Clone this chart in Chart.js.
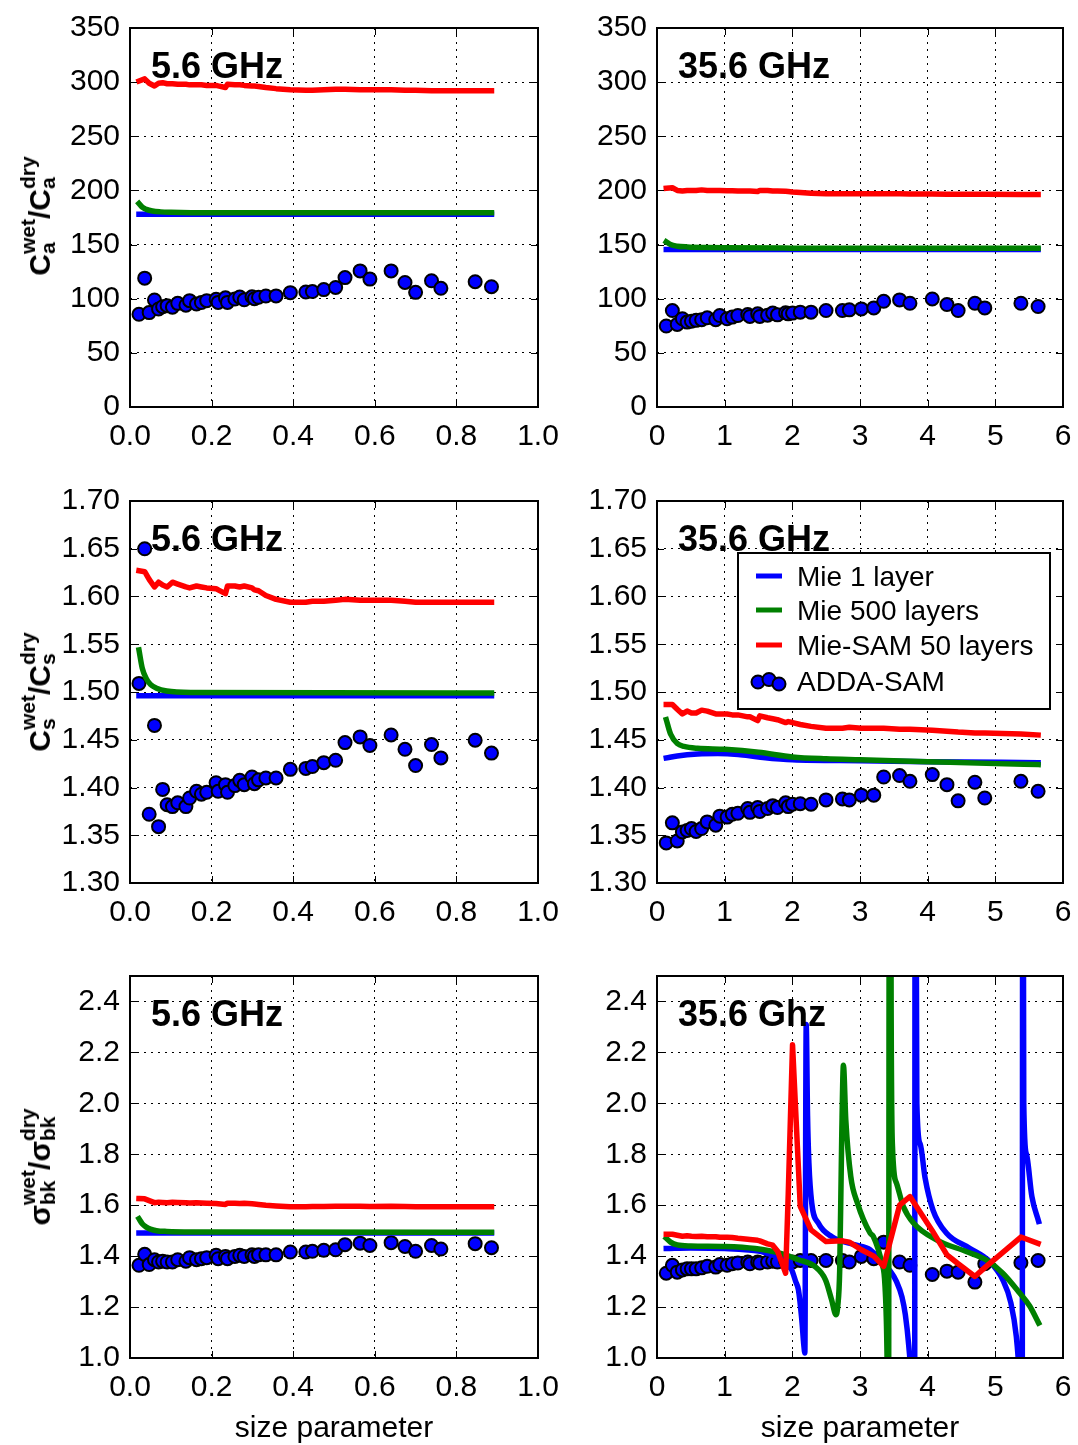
<!DOCTYPE html>
<html>
<head>
<meta charset="utf-8">
<script src="https://cdn.jsdelivr.net/npm/chart.js@4.4.0/dist/chart.umd.min.js"></script>
<style>
  body { margin: 0; background: #fff; width: 1078px; height: 1445px; position: relative; overflow: hidden;
         font-family: "Liberation Sans", Arial, sans-serif; }
  canvas { position: absolute; }
  .ytitle { position: absolute; white-space: nowrap; font-weight: bold; font-size: 30px; line-height: 36px;
            transform: translate(-50%, -50%) rotate(-90deg); }
  .ss { display: inline-flex; flex-direction: column; font-size: 21px; line-height: 20px; vertical-align: 15px; }
</style>
</head>
<body>
<div class="ytitle" style="left:38px;top:216px">C<span class="ss"><span>wet</span><span>a</span></span>/C<span class="ss"><span>dry</span><span>a</span></span></div>
<div class="ytitle" style="left:38px;top:692px">C<span class="ss"><span>wet</span><span>s</span></span>/C<span class="ss"><span>dry</span><span>s</span></span></div>
<div class="ytitle" style="left:38px;top:1167px">σ<span class="ss"><span>wet</span><span>bk</span></span>/σ<span class="ss"><span>dry</span><span>bk</span></span></div>
<script>
// ------------------------
// Datos
// ------------------------

// tamaños de partícula de los puntos ADDA (y de la curva Mie-SAM)
const xs56 = [0.022, 0.036, 0.047, 0.060, 0.070, 0.080, 0.091, 0.104, 0.117, 0.137, 0.146, 0.163, 0.175, 0.188,
  0.211, 0.216, 0.234, 0.239, 0.257, 0.269, 0.280, 0.299, 0.305, 0.315, 0.333, 0.358, 0.393, 0.431, 0.447, 0.475,
  0.504, 0.527, 0.564, 0.588, 0.640, 0.674, 0.700, 0.739, 0.762, 0.846, 0.886];
const xs356 = [0.137, 0.227, 0.299, 0.375, 0.445, 0.509, 0.578, 0.660, 0.742, 0.868, 0.928, 1.036, 1.112, 1.195,
  1.341, 1.373, 1.488, 1.519, 1.634, 1.710, 1.780, 1.901, 1.939, 2.003, 2.117, 2.276, 2.498, 2.740, 2.842, 3.020,
  3.204, 3.350, 3.585, 3.738, 4.068, 4.285, 4.450, 4.698, 4.844, 5.378, 5.632];

// absorción
const addaCa56 = [85.6, 119, 87.2, 98.8, 90.5, 92.6, 93.6, 92.2, 95.7, 94, 98.2, 95.1, 96.5, 98.2, 99.4, 96.6, 100.8,
  96.6, 99.7, 101.5, 99, 101.8, 100, 101.3, 102.5, 102.6, 105.6, 106.2, 106.6, 108.4, 110.4, 119.5, 125.7, 118.1,
  125.7, 115, 105.9, 116.6, 109.6, 115.7, 111.1];
const samCa56 = [301, 303, 299, 296.5, 299, 299.5, 298.5, 298.5, 298, 298, 297.5, 297.5, 297.5, 297, 297, 296.5, 295,
  298, 297.5, 297.5, 297, 296.5, 296.5, 296, 295, 294, 293, 292.5, 292.5, 293, 293.5, 293.5, 293, 293, 293, 292.5,
  292.5, 292, 292, 292, 292];
const mie1Ca56X = [0.022, 0.886];
const mie1Ca56 = [178, 178];
const mie500Ca56X = [0.022, 0.03, 0.04, 0.055, 0.075, 0.1, 0.15, 0.886];
const mie500Ca56 = [188, 184.5, 182.5, 181, 180.2, 179.8, 179.5, 179.3];

const addaCa356 = [74.8, 89.1, 76.3, 81.5, 78.4, 79.3, 80, 80.6, 82.4, 80.6, 84.5, 81.5, 83, 84.5, 85.4, 83.6, 86,
  83.6, 84.8, 86.7, 85.1, 87, 86, 86.7, 87.6, 87.6, 89.1, 89.1, 89.7, 90.6, 91.5, 97.6, 98.9, 95.8, 99.8, 94.6, 89.1,
  95.8, 91.5, 95.8, 92.8];
const samCa356 = [202, 202.5, 200, 199.5, 200, 200, 200, 200.5, 200, 200, 200, 199.8, 199.8, 199.5, 199.5, 199.5, 199,
  200, 200, 199.5, 199.5, 199.3, 199, 198.5, 198, 197.5, 197, 197, 197, 197, 197, 197, 197, 196.8, 196.8, 196.5, 196.5,
  196.5, 196.5, 196.3, 196.3];
const mie1Ca356X = [0.137, 5.632];
const mie1Ca356 = [145.5, 145.5];
const mie500Ca356X = [0.137, 0.2, 0.3, 0.45, 0.7, 1.0, 2.0, 5.632];
const mie500Ca356 = [152.5, 150, 148.5, 147.8, 147.3, 147, 146.7, 146.5];

// dispersión
const addaCs56 = [1.509, 1.650, 1.372, 1.465, 1.359, 1.398, 1.382, 1.380, 1.384, 1.380, 1.389, 1.396, 1.393, 1.395,
  1.405, 1.396, 1.403, 1.395, 1.402, 1.4075, 1.403, 1.411, 1.404, 1.408, 1.410, 1.410, 1.419, 1.420, 1.422, 1.426,
  1.4285, 1.447, 1.453, 1.444, 1.455, 1.440, 1.423, 1.445, 1.431, 1.4495, 1.436];
const samCs56 = [1.627, 1.626, 1.618, 1.610, 1.615, 1.612, 1.610, 1.615, 1.613, 1.610, 1.609, 1.611, 1.610, 1.609,
  1.608, 1.607, 1.603, 1.611, 1.611, 1.610, 1.611, 1.609, 1.607, 1.606, 1.601, 1.597, 1.594, 1.594, 1.595, 1.595,
  1.596, 1.597, 1.596, 1.596, 1.596, 1.595, 1.594, 1.594, 1.594, 1.594, 1.594];
const mie1Cs56X = [0.022, 0.886];
const mie1Cs56 = [1.496, 1.496];
const mie500Cs56X = [0.022, 0.03, 0.04, 0.05, 0.065, 0.09, 0.15, 0.886];
const mie500Cs56 = [1.544, 1.525, 1.514, 1.508, 1.504, 1.501, 1.4995, 1.499];

const addaCs356 = [1.342, 1.363, 1.344, 1.3535, 1.355, 1.357, 1.354, 1.357, 1.364, 1.3605, 1.370, 1.369, 1.372, 1.373,
  1.378, 1.374, 1.379, 1.375, 1.378, 1.381, 1.379, 1.384, 1.380, 1.3825, 1.383, 1.3825, 1.387, 1.388, 1.387, 1.392,
  1.392, 1.411, 1.4125, 1.4065, 1.4135, 1.403, 1.386, 1.4055, 1.389, 1.4065, 1.396];
const samCs356 = [1.487, 1.487, 1.482, 1.477, 1.480, 1.478, 1.478, 1.481, 1.480, 1.477, 1.477, 1.477, 1.476, 1.476,
  1.474, 1.474, 1.470, 1.475, 1.473, 1.472, 1.471, 1.468, 1.469, 1.468, 1.466, 1.464, 1.462, 1.462, 1.463, 1.462,
  1.462, 1.462, 1.461, 1.461, 1.460, 1.459, 1.458, 1.457, 1.457, 1.456, 1.455];
const mie1Cs356X = [0.137, 0.3, 0.6, 0.9, 1.2, 1.5, 2.0, 3.0, 4.0, 5.632];
const mie1Cs356 = [1.431, 1.433, 1.435, 1.4355, 1.4345, 1.432, 1.429, 1.428, 1.427, 1.426];
const mie500Cs356X = [0.137, 0.2, 0.3, 0.4, 0.6, 1.0, 1.5, 2.0, 2.5, 3.0, 4.0, 5.0, 5.632];
const mie500Cs356 = [1.471, 1.456, 1.446, 1.443, 1.441, 1.440, 1.437, 1.432, 1.430, 1.429, 1.427, 1.425, 1.424];

// retrodispersión
const addaBk56 = [1.364, 1.407, 1.367, 1.386, 1.377, 1.380, 1.377, 1.377, 1.386, 1.380, 1.394, 1.386, 1.390, 1.394,
  1.403, 1.390, 1.399, 1.390, 1.399, 1.403, 1.399, 1.405, 1.399, 1.405, 1.405, 1.405, 1.416, 1.416, 1.419, 1.423,
  1.425, 1.445, 1.451, 1.442, 1.453, 1.438, 1.419, 1.442, 1.428, 1.449, 1.433];
const samBk56 = [1.626, 1.625, 1.618, 1.610, 1.612, 1.611, 1.610, 1.612, 1.611, 1.610, 1.609, 1.610, 1.609, 1.608,
  1.607, 1.606, 1.603, 1.608, 1.608, 1.607, 1.608, 1.606, 1.605, 1.603, 1.600, 1.597, 1.594, 1.594, 1.595, 1.595,
  1.596, 1.596, 1.596, 1.595, 1.596, 1.595, 1.594, 1.594, 1.594, 1.594, 1.594];
const mie1Bk56X = [0.022, 0.886];
const mie1Bk56 = [1.491, 1.491];
const mie500Bk56X = [0.022, 0.03, 0.04, 0.05, 0.065, 0.09, 0.15, 0.886];
const mie500Bk56 = [1.547, 1.527, 1.514, 1.506, 1.500, 1.497, 1.495, 1.494];

const addaBk356 = [1.333, 1.364, 1.337, 1.346, 1.350, 1.350, 1.350, 1.354, 1.360, 1.357, 1.367, 1.364, 1.370, 1.373,
  1.377, 1.370, 1.377, 1.373, 1.377, 1.380, 1.377, 1.380, 1.377, 1.377, 1.383, 1.383, 1.383, 1.383, 1.377, 1.399,
  1.390, 1.455, 1.377, 1.364, 1.328, 1.341, 1.337, 1.298, 1.370, 1.374, 1.383];
const samBk356 = [1.486, 1.486, 1.482, 1.478, 1.480, 1.478, 1.477, 1.478, 1.476, 1.476, 1.474, 1.474, 1.473, 1.470,
  1.466, 1.465, 1.462, 1.460, 1.448, 1.443, 1.420, 1.333, 1.640, 2.230, 1.595, 1.503, 1.457, 1.460, 1.455, 1.425,
  1.400, 1.360, 1.600, 1.634, 1.500, 1.405, 1.370, 1.320, 1.355, 1.475, 1.450];
const mie1Bk356X = [0.137, 0.5, 1.0, 1.3, 1.5, 1.7, 1.84, 1.99, 2.05, 2.09, 2.14, 2.17, 2.185, 2.205, 2.225, 2.245,
  2.287, 2.386, 2.58, 2.93, 3.15, 3.34, 3.45, 3.54, 3.62, 3.67, 3.72, 3.76, 3.79, 3.805, 3.815, 3.84, 3.89, 3.96,
  4.08, 4.28, 4.62, 4.91, 5.11, 5.23, 5.31, 5.35, 5.38, 5.395, 5.405, 5.42, 5.46, 5.54, 5.64];
const mie1Bk356 = [1.430, 1.432, 1.430, 1.425, 1.420, 1.405, 1.390, 1.346, 1.300, 1.268, 1.150, 1.050, 1.020, 2.310,
  1.950, 1.765, 1.608, 1.529, 1.477, 1.444, 1.425, 1.370, 1.340, 1.300, 1.240, 1.170, 1.050, 0.900, 0.500, -1.0, 4.0,
  2.000, 1.840, 1.710, 1.580, 1.490, 1.431, 1.380, 1.307, 1.216, 1.085, 0.950, 0.600, -1.0, 4.0, 2.000, 1.800,
  1.634, 1.536];
const mie500Bk356X = [0.137, 0.2, 0.3, 0.5, 1.0, 1.45, 1.84, 2.09, 2.33, 2.49, 2.58, 2.645, 2.67, 2.70, 2.73, 2.755,
  2.79, 2.864, 2.96, 3.15, 3.197, 3.32, 3.37, 3.40, 3.42, 3.44, 3.46, 3.48, 3.54, 3.64, 3.79, 4.13, 4.57, 4.86, 5.11,
  5.36, 5.51, 5.64];
const mie500Bk356 = [1.470, 1.455, 1.444, 1.440, 1.438, 1.430, 1.410, 1.386, 1.360, 1.307, 1.229, 1.170, 1.200,
  1.346, 1.870, 2.150, 1.935, 1.712, 1.610, 1.490, 1.477, 1.373, 1.280, 1.000, 0.400, 5.0, 2.400, 1.830, 1.686, 1.595,
  1.530, 1.464, 1.418, 1.386, 1.333, 1.255, 1.203, 1.137];

// marcas de los ejes
const ticksX56 = [0, 0.2, 0.4, 0.6, 0.8, 1.0];
const ticksX356 = [0, 1, 2, 3, 4, 5, 6];
const ticksCa = [0, 50, 100, 150, 200, 250, 300, 350];
const ticksCs = [1.30, 1.35, 1.40, 1.45, 1.50, 1.55, 1.60, 1.65, 1.70];
const ticksBk = [1.0, 1.2, 1.4, 1.6, 1.8, 2.0, 2.2, 2.4];

const textosLeyenda = ['Mie 1 layer', 'Mie 500 layers', 'Mie-SAM 50 layers', 'ADDA-SAM'];

// ------------------------
// Utilidades
// ------------------------

const familia = '"Liberation Sans", Arial, sans-serif';
Chart.defaults.font.family = familia;
Chart.defaults.color = '#000';

const AZUL = '#0000ff';
const VERDE = '#008000';
const ROJO = '#ff0000';

function puntos(xs, ys) {
  return xs.map((x, i) => ({ x: x, y: ys[i] }));
}

function dibujarLeyenda(ctx, a) {
  const x0 = a.left + 81;
  const y0 = a.top + 52;
  ctx.fillStyle = '#fff';
  ctx.fillRect(x0, y0, 312, 156);
  ctx.lineWidth = 2;
  ctx.strokeStyle = '#000';
  ctx.strokeRect(x0, y0, 312, 156);

  const filas = [23, 57, 92, 128];
  const colores = [AZUL, VERDE, ROJO];
  ctx.font = '28px ' + familia;
  ctx.textAlign = 'left';
  ctx.textBaseline = 'alphabetic';
  textosLeyenda.forEach((t, i) => {
    const yc = y0 + filas[i];
    if (i < 3) {
      ctx.strokeStyle = colores[i];
      ctx.lineWidth = 5;
      ctx.beginPath();
      ctx.moveTo(x0 + 18, yc);
      ctx.lineTo(x0 + 44, yc);
      ctx.stroke();
    } else {
      // tres circulitos como en matplotlib
      [[20, 1], [31, -1.5], [41, 3]].forEach(([dx, dy]) => {
        ctx.beginPath();
        ctx.arc(x0 + dx, yc + dy, 6.5, 0, Math.PI * 2);
        ctx.fillStyle = AZUL;
        ctx.fill();
        ctx.lineWidth = 2;
        ctx.strokeStyle = '#000';
        ctx.stroke();
      });
    }
    ctx.fillStyle = '#000';
    ctx.fillText(t, x0 + 59, yc + 10);
  });
}

// marco, ticks hacia dentro, etiqueta de frecuencia y leyenda
const marco = {
  id: 'marco',
  afterDatasetsDraw(chart, args, opts) {
    const ctx = chart.ctx;
    const a = chart.chartArea;
    const sx = chart.scales.x;
    const sy = chart.scales.y;
    ctx.save();
    ctx.strokeStyle = '#000';
    ctx.lineWidth = 1;
    ctx.beginPath();
    sx.ticks.forEach(t => {
      const p = Math.round(sx.getPixelForValue(t.value)) + 0.5;
      ctx.moveTo(p, a.bottom); ctx.lineTo(p, a.bottom - 7);
      ctx.moveTo(p, a.top); ctx.lineTo(p, a.top + 7);
    });
    sy.ticks.forEach(t => {
      const p = Math.round(sy.getPixelForValue(t.value)) + 0.5;
      ctx.moveTo(a.left, p); ctx.lineTo(a.left + 7, p);
      ctx.moveTo(a.right, p); ctx.lineTo(a.right - 7, p);
    });
    ctx.stroke();
    ctx.lineWidth = 2;
    ctx.strokeRect(a.left, a.top, a.right - a.left, a.bottom - a.top);

    ctx.fillStyle = '#000';
    ctx.font = 'bold 36px ' + familia;
    ctx.textAlign = 'left';
    ctx.textBaseline = 'alphabetic';
    ctx.fillText(opts.etiqueta, a.left + 21, a.top + 50);

    if (opts.leyenda) dibujarLeyenda(ctx, a);
    ctx.restore();
  }
};

// ------------------------
// Paneles
// ------------------------

// el padding derecho incluye medio rótulo + ticks.padding (así lo calcula Chart.js)
const col56 = { left: 0, width: 571, ejeY: 130, padRight: 33, xMax: 1, xTicks: ticksX56, xDig: 1 };
const col356 = { left: 540, width: 544, ejeY: 117, padRight: 21, xMax: 6, xTicks: ticksX356, xDig: 0 };
const fila1 = { top: 0, height: 470, padTop: 25, altoX: 63, yMin: 0, yMax: 350, yTicks: ticksCa, yDig: 0 };
const fila2 = { top: 470, height: 476, padTop: 31, altoX: 63, yMin: 1.3, yMax: 1.7, yTicks: ticksCs, yDig: 2 };
const fila3 = { top: 946, height: 499, padTop: 30, altoX: 87, yMin: 1.0, yMax: 2.5, yTicks: ticksBk, yDig: 1, titulo: true };

const paneles = [
  { col: col56, fila: fila1, etiqueta: '5.6 GHz', xs: xs56, adda: addaCa56, sam: samCa56,
    m1x: mie1Ca56X, m1: mie1Ca56, m5x: mie500Ca56X, m5: mie500Ca56 },
  { col: col356, fila: fila1, etiqueta: '35.6 GHz', xs: xs356, adda: addaCa356, sam: samCa356,
    m1x: mie1Ca356X, m1: mie1Ca356, m5x: mie500Ca356X, m5: mie500Ca356 },
  { col: col56, fila: fila2, etiqueta: '5.6 GHz', xs: xs56, adda: addaCs56, sam: samCs56,
    m1x: mie1Cs56X, m1: mie1Cs56, m5x: mie500Cs56X, m5: mie500Cs56 },
  { col: col356, fila: fila2, etiqueta: '35.6 GHz', xs: xs356, adda: addaCs356, sam: samCs356,
    m1x: mie1Cs356X, m1: mie1Cs356, m5x: mie500Cs356X, m5: mie500Cs356, leyenda: true },
  { col: col56, fila: fila3, etiqueta: '5.6 GHz', xs: xs56, adda: addaBk56, sam: samBk56,
    m1x: mie1Bk56X, m1: mie1Bk56, m5x: mie500Bk56X, m5: mie500Bk56 },
  { col: col356, fila: fila3, etiqueta: '35.6 Ghz', xs: xs356, adda: addaBk356, sam: samBk356,
    m1x: mie1Bk356X, m1: mie1Bk356, m5x: mie500Bk356X, m5: mie500Bk356 }
];

function linea(label, data, color, orden, suave) {
  return {
    label: label,
    data: data,
    showLine: true,
    pointRadius: 0,
    borderColor: color,
    backgroundColor: color,
    borderWidth: 5.5,
    borderJoinStyle: 'round',
    borderCapStyle: 'square',
    cubicInterpolationMode: suave ? 'monotone' : 'default',
    tension: 0,
    order: orden,
    clip: 0
  };
}

function crearPanel(p) {
  const c = p.col, f = p.fila;
  const canvas = document.createElement('canvas');
  canvas.width = c.width;
  canvas.height = f.height;
  canvas.style.left = c.left + 'px';
  canvas.style.top = f.top + 'px';
  canvas.style.width = c.width + 'px';
  canvas.style.height = f.height + 'px';
  document.body.insertBefore(canvas, document.body.firstChild);

  new Chart(canvas, {
    type: 'scatter',
    data: {
      datasets: [
        linea(textosLeyenda[2], puntos(p.xs, p.sam), ROJO, 1, false),
        linea(textosLeyenda[1], puntos(p.m5x, p.m5), VERDE, 2, true),
        linea(textosLeyenda[0], puntos(p.m1x, p.m1), AZUL, 3, true),
        {
          label: textosLeyenda[3],
          data: puntos(p.xs, p.adda),
          pointRadius: 6.5,
          pointBorderWidth: 2,
          pointBackgroundColor: AZUL,
          pointBorderColor: '#000',
          showLine: false,
          order: 4
        }
      ]
    },
    options: {
      responsive: false,
      animation: false,
      devicePixelRatio: 1,
      layout: { padding: { left: 0, right: c.padRight, top: f.padTop, bottom: 0 } },
      plugins: {
        legend: { display: false },
        tooltip: { enabled: false },
        marco: { etiqueta: p.etiqueta, leyenda: !!p.leyenda }
      },
      scales: {
        x: {
          type: 'linear',
          min: 0,
          max: c.xMax,
          afterBuildTicks: s => { s.ticks = c.xTicks.map(v => ({ value: v })); },
          afterFit: s => { s.height = f.altoX; },
          ticks: { autoSkip: false, maxRotation: 0, padding: 12, font: { size: 30 }, color: '#000',
                   callback: v => v.toFixed(c.xDig) },
          grid: { color: '#000', lineWidth: 1, drawTicks: false },
          border: { display: false, dash: [2, 5] },
          title: { display: !!f.titulo, text: 'size parameter', color: '#000',
                   font: { size: 30 }, padding: { top: 0, bottom: -2 } }
        },
        y: {
          type: 'linear',
          min: f.yMin,
          max: f.yMax,
          afterBuildTicks: s => { s.ticks = f.yTicks.map(v => ({ value: v })); },
          afterFit: s => { s.width = c.ejeY; },
          ticks: { autoSkip: false, padding: 10, font: { size: 30 }, color: '#000',
                   callback: v => v.toFixed(f.yDig) },
          grid: { color: '#000', lineWidth: 1, drawTicks: false },
          border: { display: false, dash: [2, 5] }
        }
      }
    },
    plugins: [marco]
  });
}

paneles.forEach(crearPanel);
</script>
</body>
</html>
